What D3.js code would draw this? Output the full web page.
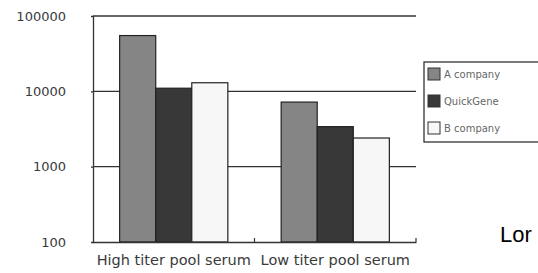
<!DOCTYPE html>
<html>
<head>
<meta charset="utf-8">
<script src="https://cdn.jsdelivr.net/npm/d3@7"></script>
<style>
  html, body { margin: 0; padding: 0; background: #fff; overflow: hidden; }
  svg { display: block; }
</style>
</head>
<body>
<svg id="chart" width="538" height="273"></svg>
<script>
const categories = ["High titer pool serum", "Low titer pool serum"];
const seriesNames = ["A company", "QuickGene", "B company"];
const aCompany = [55000, 7200];
const quickGene = [11000, 3400];
const bCompany = [13000, 2400];
const yTicks = [100, 1000, 10000, 100000];
const seriesColors = ["#858585", "#383838", "#f7f7f7"];
const seriesValues = [aCompany, quickGene, bCompany];

const svg = d3.select("#chart");
svg.append("rect").attr("width", 538).attr("height", 273).attr("fill", "#fff");

const plotLeft = 93, plotRight = 416, plotTop = 16, plotBottom = 242;

const y = d3.scaleLog().domain([100, 100000]).range([plotBottom, plotTop]);
const x0 = d3.scaleBand().domain(categories).range([plotLeft, plotRight]).padding(0);
const bw = x0.bandwidth();
const x1 = d3.scaleBand().domain(seriesNames).range([bw * 0.165, bw * 0.835]).padding(0);

// gridlines
svg.append("g").selectAll("line")
  .data(yTicks.filter(d => d > 100))
  .join("line")
  .attr("x1", plotLeft).attr("x2", plotRight)
  .attr("y1", d => y(d)).attr("y2", d => y(d))
  .attr("stroke", "#333").attr("stroke-width", 1.3);

// bars
const groups = svg.append("g").selectAll("g")
  .data(categories)
  .join("g")
  .attr("transform", c => `translate(${x0(c)},0)`);

groups.selectAll("rect")
  .data((c, i) => seriesNames.map((s, k) => ({ s, k, v: seriesValues[k][i] })))
  .join("rect")
  .attr("x", d => x1(d.s))
  .attr("width", x1.bandwidth())
  .attr("y", d => y(d.v))
  .attr("height", d => plotBottom - y(d.v))
  .attr("fill", d => seriesColors[d.k])
  .attr("stroke", "#222")
  .attr("stroke-width", 1.2);

// y axis
const yAxis = d3.axisLeft(y).tickValues(yTicks).tickFormat(d3.format("d")).tickSize(2).tickPadding(25);
const gy = svg.append("g").attr("transform", `translate(${plotLeft},0)`).call(yAxis);
gy.select(".domain").attr("stroke", "#333").attr("stroke-width", 1.3);
gy.selectAll(".tick line").attr("stroke", "#333").attr("stroke-width", 1.2);
gy.selectAll(".tick text")
  .attr("font-family", "DejaVu Sans, sans-serif")
  .attr("font-size", 13)
  .attr("fill", "#3a3a3a");

// x axis
const xAxis = d3.axisBottom(x0).tickSize(0).tickPadding(13);
const gx = svg.append("g").attr("transform", `translate(0,${plotBottom})`).call(xAxis);
gx.select(".domain").attr("stroke", "#333").attr("stroke-width", 1.3);
gx.selectAll(".tick text")
  .attr("font-family", "DejaVu Sans, sans-serif")
  .attr("font-size", 14.5)
  .attr("fill", "#3a3a3a");

// small upward ticks at category boundaries
svg.append("g").selectAll("line")
  .data(categories)
  .join("line")
  .attr("x1", c => x0(c) + bw).attr("x2", c => x0(c) + bw)
  .attr("y1", plotBottom).attr("y2", plotBottom - 4)
  .attr("stroke", "#333").attr("stroke-width", 1.2);

// legend
const lg = svg.append("g");
lg.append("rect")
  .attr("x", 424).attr("y", 62).attr("width", 140).attr("height", 80)
  .attr("fill", "#fff").attr("stroke", "#333").attr("stroke-width", 1.3);
const items = lg.selectAll("g.item")
  .data(seriesNames)
  .join("g")
  .attr("class", "item")
  .attr("transform", (d, i) => `translate(428,${68 + i * 27})`);
items.append("rect")
  .attr("width", 12).attr("height", 12)
  .attr("fill", (d, i) => seriesColors[i])
  .attr("stroke", "#333").attr("stroke-width", 1);
items.append("text")
  .attr("x", 16).attr("y", 10)
  .attr("font-family", "DejaVu Sans, sans-serif")
  .attr("font-size", 10)
  .attr("fill", "#666")
  .text(d => d);

// text fragment at lower right
svg.append("text")
  .attr("x", 500).attr("y", 242)
  .attr("font-family", "Liberation Sans, Arial, sans-serif")
  .attr("font-size", 22)
  .attr("fill", "#000")
  .text("Lor");
</script>
</body>
</html>
